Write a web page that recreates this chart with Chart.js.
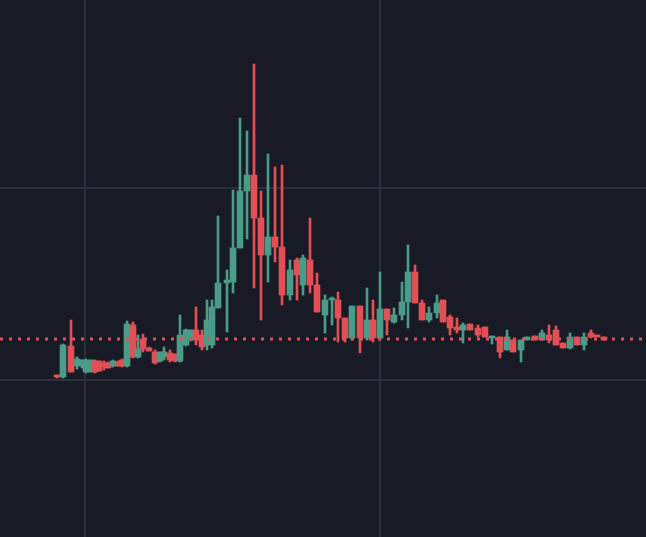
<!DOCTYPE html>
<html><head><meta charset="utf-8">
<script src="https://cdn.jsdelivr.net/npm/chart.js@4"></script>
<style>html,body{margin:0;padding:0;background:#181a25;}#w{width:646px;height:537px;}</style>
</head><body><div id="w"><canvas id="c"></canvas></div>
<script>
const times = [57,63,71,77,82,86,91,95,99,104,108,113,118,122,127,133,138,143,149,155,160,164,170,175,180,186,191,196,202,207,212,218,227,233,240,247,254,261,268,275,282,290,297,303,310,317,325,332,338,345,352,360,367,373,380,387,394,402,408,415,422,429,437,443,450,457,463,470,478,485,492,500,507,513,521,527,535,542,549,556,563,570,577,584,591,597,604];
const opens  = [225,223,254,234,234,228,228,239,239,237,237,234,238,240,234,275,243,261,252,248,239,243,247,246,239,255,260,270,265,255,255,292,317,318,352,409,425,382,345,363,353,305,340,315,340,315,285,300,300,282,262,294,262,280,262,291,278,285,298,328,297,280,287,300,283,273,270,276,272,273,262,263,250,260,250,260,264,260,265,270,257,252,263,255,267,265,263];
const highs  = [225,256,280,243,240,241,240,240,239,239,238,240,239,241,279,278,265,266,253,250,248,253,250,246,285,271,270,293,270,300,300,384,330,410,482,469,536,409,446,433,435,340,342,345,382,327,305,303,308,282,294,294,312,300,328,291,292,318,355,335,300,293,305,300,285,282,277,276,275,273,264,263,270,260,260,263,264,270,275,274,257,267,263,267,270,265,263];
const lows   = [222,222,228,231,232,227,228,227,229,230,232,233,234,233,233,242,242,248,249,236,238,240,238,238,238,254,259,255,250,250,252,292,268,307,352,361,312,280,318,338,295,300,300,305,307,288,267,275,258,258,260,247,260,258,260,265,277,280,272,297,280,278,282,278,265,267,257,270,263,263,256,242,250,248,238,260,260,260,257,255,252,251,255,250,262,263,260];
const closes = [223,255,228,241,240,240,240,228,229,233,232,239,234,234,276,243,251,251,249,237,248,248,240,239,265,270,270,260,253,280,293,317,320,352,409,425,382,345,363,353,305,330,325,342,315,288,300,302,282,262,294,262,280,262,291,280,285,298,328,297,280,287,297,278,272,270,275,270,265,263,264,248,263,248,260,263,260,267,260,255,252,263,255,263,263,263,260];
const lastPrice = 261;
const gridY = [220,412];
const gridX = [85,380];

const GREEN = '#4a9c88', RED = '#e24f55', GRID = '#2b2e3b';
const cols = opens.map((o,i)=> closes[i] >= o ? GREEN : RED);
const bodies = times.map((t,i)=>({x:t, y:[Math.min(opens[i],closes[i]), Math.max(opens[i],closes[i])+ (Math.abs(opens[i]-closes[i])<1.5?1.5:0)]}));
const wicks = times.map((t,i)=>({x:t, y:[lows[i], highs[i]]}));

const gridPlugin = {
  id:'gridX',
  beforeDatasetsDraw(chart){
    const {ctx, chartArea:a, scales:{x}} = chart;
    ctx.save(); ctx.strokeStyle=GRID; ctx.lineWidth=2;
    gridX.forEach(v=>{const px=Math.round(x.getPixelForValue(v)); ctx.beginPath(); ctx.moveTo(px,a.top); ctx.lineTo(px,a.bottom); ctx.stroke();});
    ctx.restore();
  }
};

new Chart(document.getElementById('c'), {
  data: { datasets: [
    {type:'line', data:[{x:0,y:lastPrice},{x:646,y:lastPrice}], borderColor:RED, borderWidth:3, borderDash:[3,6], pointRadius:0, order:0},
    {type:'bar', data:wicks, backgroundColor:cols, barThickness:2, grouped:false, order:2},
    {type:'bar', data:bodies, backgroundColor:cols, barThickness:6, grouped:false, order:1}
  ]},
  options: {
    responsive:true, maintainAspectRatio:false, animation:false,
    layout:{padding:0},
    plugins:{legend:{display:false}, tooltip:{enabled:false}},
    scales:{
      x:{type:'linear', display:false, min:0, max:646, offset:false},
      y:{type:'linear', min:63, max:600,
         afterBuildTicks:(s)=>{s.ticks=gridY.map(v=>({value:v}));},
         ticks:{display:false}, grid:{color:GRID, lineWidth:2, drawTicks:false}, border:{display:false}}
    }
  },
  plugins:[gridPlugin]
});
</script></body></html>
